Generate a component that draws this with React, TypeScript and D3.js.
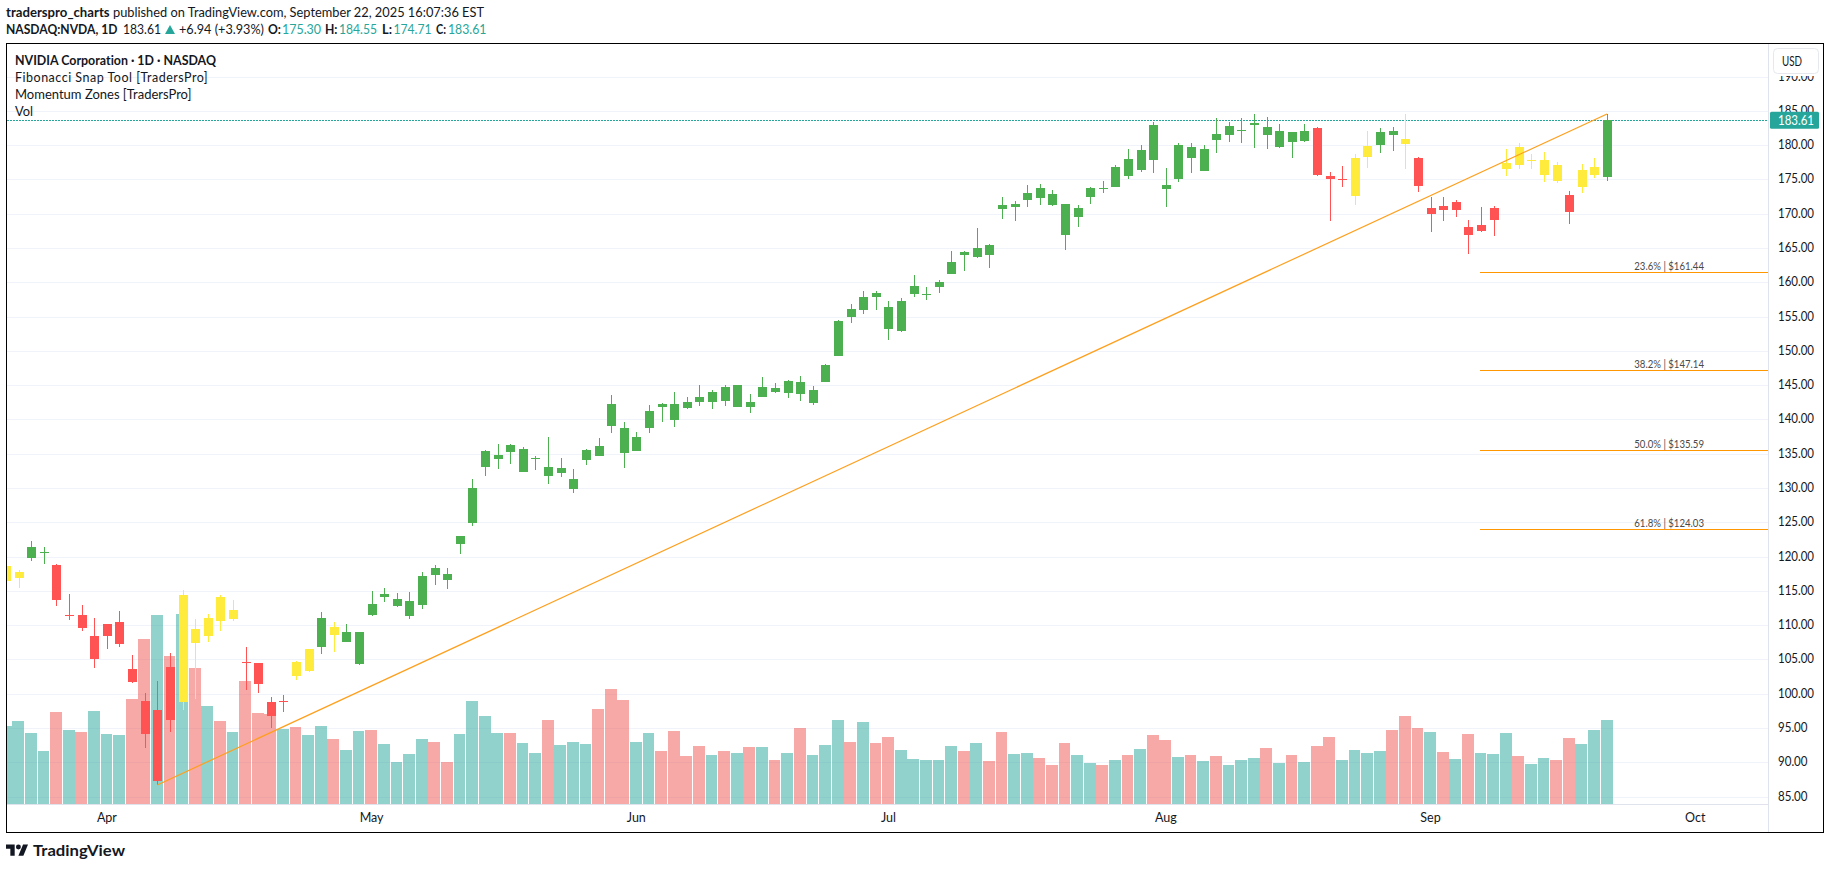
import React from "react";
import * as d3 from "d3";

const opens = [116.44,116.88,119.79,120.55,118.77,111.33,111.48,105.06,108.42,107.25,103.6,98.94,87.27,103.9,98.8,109.4,108.4,114.1,110.9,104.6,104.5,98.8,98.8,104.6,103.3,106.8,109.73,107.54,104.33,113.08,114.11,112.8,111.33,112.94,118.33,117.46,121.83,124.9,133.06,134.23,136.27,132.34,134.23,133.06,132.19,129.85,134.08,136.13,142.25,138.75,135.4,138.75,142.25,142.25,142.54,143.27,142.54,144.73,141.8,142.54,143.27,144.58,143.86,145.46,142.4,145.46,149.25,156.1,155.96,158.44,156.4,152.9,158.3,158.15,159.3,161.2,164.4,163.7,165.44,171.3,170.98,172,173.75,172.88,171.4,169.52,172.44,173.75,173.9,178,176.38,182.94,174.19,175.07,179.73,176.23,181.63,181.48,182.06,182.94,182.65,179.73,181.92,180.6,182.5,175.5,174.9,172.6,178.28,180,182.07,180.9,178.13,169.96,171.13,170.54,168.07,167.48,169.09,176.53,179.73,177.74,175.65,177.1,172.73,173.9,175.65,175.3];
const highs = [119.5,118.04,122.27,121.4,118.9,114.54,112.93,111.04,110.17,112.06,105.65,100.1,101.85,105.94,115.1,110.9,111.6,114.4,113.7,106.8,104.5,99.5,99.8,104.8,106.5,111.9,110.46,110.2,109,114.98,115.42,114.69,114.84,117.75,118.77,118.33,123,131.3,135.54,136.42,136.42,135.98,134.67,137.44,134.38,132.77,135.69,137.3,143.5,139.63,138.17,142.1,142.4,144,143.27,145.02,144.3,145.02,145.02,143.71,146.19,145.3,145.75,146.3,144.88,148.08,154.5,156.84,158.73,158.73,157.27,157.71,161.06,159.3,160.33,164.6,164.6,167.9,165.6,172.44,171.86,174.19,174.34,173.46,171.4,171.27,173.9,174.8,177.1,179.44,180,183.38,176.67,180.3,180.3,180,183.96,183.38,183.96,184.54,184.1,183.09,181.92,183.09,182.65,176.1,176.96,178.7,182.07,182.5,182.65,184.55,178.3,172.44,172.44,172,169.09,171,171.13,179.44,180.32,178.7,179,177.55,173.32,177.26,178.13,184.55];
const lows = [116,115.42,119.36,118.92,112.79,110.75,109.14,103.75,106.52,106.81,101.56,92.08,86.69,94.4,97.6,99.2,107.5,109.1,110.6,100.5,100.1,95,97.3,102,103.2,105.8,106.08,107.5,104.19,111.33,113.38,112.65,110.9,112.35,115.85,115.27,120.38,124.46,131.75,132.77,133.5,132.34,132.63,130.59,131.6,129.27,133.36,134.67,138.02,132.92,135.4,138.02,139.63,138.9,141.52,141.96,141.52,141.96,141.8,140.94,143.27,143.86,143.13,142.69,142.1,145.46,149.25,154.06,155.38,155.96,151.59,152.76,157.86,157.42,158.44,161.2,161.65,163.5,162.09,169.23,168.94,170.98,171.27,171.13,164.7,168.06,171.4,173,173.9,175.07,176.09,175.94,170.98,174.6,175.94,176.23,178.86,180.46,180.3,179.6,179.44,179.59,178.13,180.5,175.5,168.94,173.9,171.28,176.67,178.86,179.15,176.5,173.17,167.34,168.94,169.53,164.13,167.4,166.75,175.5,176.53,176.5,174.63,174.48,168.5,173,175.2,174.71];
const closes = [118.63,117.75,121.4,120.67,113.67,111.48,109.58,108.42,110.17,110.46,101.71,94.12,97.63,96.17,114.4,107.4,111,110.6,112.2,104.5,101.4,96.75,98.9,102.6,106.5,111,108.56,109,109,111.48,114.54,113.81,113.52,117.17,117.3,116.58,123,130,135.4,134.8,135.25,135.69,134.38,131.75,132.92,131.3,135.54,134.67,139.04,135.1,137.44,141.23,141.8,139.92,141.67,142.54,144,142.69,145.02,141.8,144.73,144,145.6,143.71,144.3,147.94,154.35,154.94,157.86,157.86,153.19,157.27,159.46,158.3,160.04,162.96,164,165,164,170.7,171.42,173,172.3,171.27,166.9,170.84,173.75,173.6,176.8,175.5,179.3,177.84,173.6,180,178.13,179.44,180.75,182.8,182.2,183.23,181.48,182.06,180.46,182.06,175.65,175.07,175.07,178.13,179.88,181.92,181.48,180.17,174.05,170.84,170.54,171.71,166.9,168.36,170.84,177.4,177.1,177.9,177.84,174.78,170.25,176.38,176.82,183.61];
const volumes = [252,268,230,171,298,239,233,301,226,223,340,534,611,479,614,440,317,268,233,398,294,291,243,249,223,252,210,175,236,239,194,136,162,210,201,136,226,333,285,230,230,197,165,272,191,201,194,307,372,336,201,230,171,236,155,188,158,171,165,184,184,142,165,246,158,191,272,201,265,197,217,175,146,142,142,188,171,197,139,233,162,165,149,126,197,158,133,126,142,158,178,223,207,152,158,139,155,126,142,149,181,133,158,136,188,217,142,175,165,171,239,285,246,233,168,146,226,165,162,230,155,129,149,142,213,194,239,272];
const zones = [
  "YYGGRRRRRR", "RRRRYYYYYR", "RRRYYGYGGG", "GGGGGGGGGG", "GGGGGGGGGG", "GGGGGGGGGG", "GGGGGGGGGG",
  "GGGGGGGGGG", "GGGGGGGGGG", "GGGGGGGGGG", "GGGGRRRYYG", "GYRRRRRRRY", "YYYYRYYG",
].join("").split("");

const gridPrices = [85,90,95,100,105,110,115,120,125,130,135,140,145,150,155,160,165,170,175,180,185,190];
const fibLevels = [
  { pct: "23.6%", price: 161.44 },
  { pct: "38.2%", price: 147.14 },
  { pct: "50.0%", price: 135.59 },
  { pct: "61.8%", price: 124.03 },
];
const monthLabels = [
  { label: "Apr", bar: 8 },
  { label: "May", bar: 29 },
  { label: "Jun", bar: 50 },
  { label: "Jul", bar: 70 },
  { label: "Aug", bar: 92 },
  { label: "Sep", bar: 113 },
  { label: "Oct", bar: 134 },
];
const lastPrice = 183.61;
const swingLowBar = 12;
const swingLowPrice = 86.69;
const swingHighBar = 127;
const swingHighPrice = 184.55;

const W = 1829, H = 869;
const paneL = 7, paneR = 1769, paneT = 44, axisY = 804;
const FONT = "Lato, 'Noto Sans', sans-serif";
const INK = "#131722";
const TEAL = "#26a69a";

const x = d3.scaleLinear().domain([12, 127]).range([157.3, 1607]);
const y = d3.scaleLinear().domain([85, 125]).range([796.6, 522.3]);
const yVol = d3.scaleLinear().domain([0, 614]).range([axisY, axisY - 190]);
const zoneColor: Record<string, string> = { Y: "#ffeb3b", G: "#4caf50", R: "#ff5252" };

function T(p: any) {
  const { children, ...rest } = p;
  return (
    <text fontFamily={FONT} fill={INK} fontSize={12.5} lengthAdjust="spacingAndGlyphs"
      style={{ fontVariantLigatures: "none" }} {...rest}>{children}</text>
  );
}

export default function App() {
  const trend = d3.line<[number, number]>()([
    [x(swingLowBar), y(swingLowPrice)],
    [x(swingHighBar), y(swingHighPrice)],
  ]) as string;
  return (
    <svg width={W} height={H} viewBox={`0 0 ${W} ${H}`} style={{ position: "absolute", left: 0, top: 0, background: "#fff" }}>
      <defs>
        <clipPath id="pane"><rect x={paneL} y={paneT} width={paneR - paneL} height={axisY - paneT} /></clipPath>
      </defs>

      {/* header */}
      <T x={6} y={17} fontWeight={700} textLength={103.6}>traderspro_charts</T>
      <T x={113} y={17} textLength={371}>published on TradingView.com, September 22, 2025 16:07:36 EST</T>
      <T x={6} y={34} fontWeight={700} textLength={111.4}>NASDAQ:NVDA, 1D</T>
      <T x={123} y={34} textLength={38}>183.61</T>
      <path d="M170 25 L175 34 L165 34 Z" fill={TEAL} />
      <T x={179} y={34} textLength={85}>+6.94 (+3.93%)</T>
      <T x={268} y={34} fontWeight={700} textLength={13}>O:</T>
      <T x={282} y={34} fill={TEAL} textLength={39}>175.30</T>
      <T x={325} y={34} fontWeight={700} textLength={12.5}>H:</T>
      <T x={339} y={34} fill={TEAL} textLength={38}>184.55</T>
      <T x={382} y={34} fontWeight={700} textLength={10}>L:</T>
      <T x={393.5} y={34} fill={TEAL} textLength={38}>174.71</T>
      <T x={436} y={34} fontWeight={700} textLength={10}>C:</T>
      <T x={448} y={34} fill={TEAL} textLength={38.4}>183.61</T>

      {/* grid */}
      <g clipPath="url(#pane)" shapeRendering="crispEdges">
        {gridPrices.map((p) => (
          <line key={p} x1={paneL} x2={paneR} y1={Math.round(y(p)) + 0.5} y2={Math.round(y(p)) + 0.5} stroke="#f0f3fa" />
        ))}
      </g>

      {/* volume */}
      <g clipPath="url(#pane)" shapeRendering="crispEdges">
        {volumes.map((v, i) => {
          const left = Math.round(x(i) - 6.3);
          const right = Math.round(x(i) + 5.5);
          return (
            <rect key={i} x={left} y={Math.round(yVol(v))} width={right - left} height={axisY - Math.round(yVol(v))}
              fill={closes[i] >= opens[i] ? TEAL : "#ef5350"} fillOpacity={0.5} />
          );
        })}
      </g>

      {/* last price line */}
      <line x1={paneL} x2={paneR} y1={Math.floor(y(lastPrice)) + 0.5} y2={Math.floor(y(lastPrice)) + 0.5}
        stroke={TEAL} strokeDasharray="1.5 1.5" shapeRendering="crispEdges" />

      {/* candles */}
      <g clipPath="url(#pane)" shapeRendering="crispEdges">
        {opens.map((o, i) => {
          const c = closes[i];
          const cx = Math.round(x(i));
          const top = Math.round(y(Math.max(o, c)));
          const bot = Math.max(top + 1, Math.round(y(Math.min(o, c))));
          const col = zoneColor[zones[i]];
          return (
            <g key={i} fill={col}>
              <rect x={cx} y={Math.round(y(highs[i]))} width={1} height={Math.max(1, Math.round(y(lows[i])) - Math.round(y(highs[i])))} />
              <rect x={cx - 4} y={top} width={9} height={bot - top} />
            </g>
          );
        })}
      </g>

      {/* trend line */}
      <path d={trend} fill="none" stroke="#ff9f1c" strokeWidth={1.2} clipPath="url(#pane)" />

      {/* fib levels */}
      <g>
        {fibLevels.map((f) => (
          <g key={f.pct}>
            <line x1={1480} x2={paneR} y1={Math.round(y(f.price)) + 0.5} y2={Math.round(y(f.price)) + 0.5} stroke="#ff9800" shapeRendering="crispEdges" />
            <T x={1634.3} y={y(f.price) - 2} fontSize={10.5} fill="#4a4a4a" textLength={69.7}>{`${f.pct} | $${f.price.toFixed(2)}`}</T>
          </g>
        ))}
      </g>

      {/* axes */}
      <line x1={paneL} x2={paneR} y1={804.5} y2={804.5} stroke="#e0e3eb" shapeRendering="crispEdges" />
      <line x1={paneR - 0.5} x2={paneR - 0.5} y1={paneT} y2={832} stroke="#e0e3eb" shapeRendering="crispEdges" />
      {gridPrices.map((p) => (
        <T key={p} x={1778} y={y(p) + 4} fontSize={12.5} textLength={p >= 100 ? 36 : 29.5}>{`${p}.00`}</T>
      ))}
      {monthLabels.map((m) => (
        <T key={m.label} x={x(m.bar)} y={822} textAnchor="middle" fontSize={12.5}>{m.label}</T>
      ))}

      {/* USD box and last price tag */}
      <rect x={1772} y={47} width={47} height={29} fill="#fff" />
      <rect x={1773.5} y={48.5} width={45} height={25} rx={4} fill="#fff" stroke="#e6e8ee" />
      <T x={1782} y={66} textLength={20}>USD</T>
      <rect x={1770} y={y(lastPrice) - 8.7} width={49} height={17} rx={1.5} fill={TEAL} />
      <T x={1778} y={y(lastPrice) + 4.3} fill="#fff" textLength={36}>{lastPrice.toFixed(2)}</T>

      {/* legend */}
      <T x={15} y={65} fontWeight={700} textLength={201}>NVIDIA Corporation · 1D · NASDAQ</T>
      <text x={15} y={82} fontFamily={FONT} fill={INK} fontSize={12.5} letterSpacing={0.5}>Fibonacci Snap Tool [TradersPro]</text>
      <T x={15} y={99} textLength={176.5}>Momentum Zones [TradersPro]</T>
      <T x={15} y={116} textLength={18}>Vol</T>

      {/* frame */}
      <rect x={6.5} y={43.5} width={1817} height={789} fill="none" stroke="#000" strokeWidth={1.2} shapeRendering="crispEdges" />

      {/* footer */}
      <g transform="translate(6 844.5) scale(0.62)" fill={INK}>
        <path d="M14 22H7V11H0V4h14v18zM28 22h-8l7.5-18h8L28 22z" transform="translate(0 -4)" />
        <circle cx={20} cy={4} r={4} />
      </g>
      <T x={33} y={856} fontSize={16} fontWeight={700} textLength={92}>TradingView</T>
    </svg>
  );
}
